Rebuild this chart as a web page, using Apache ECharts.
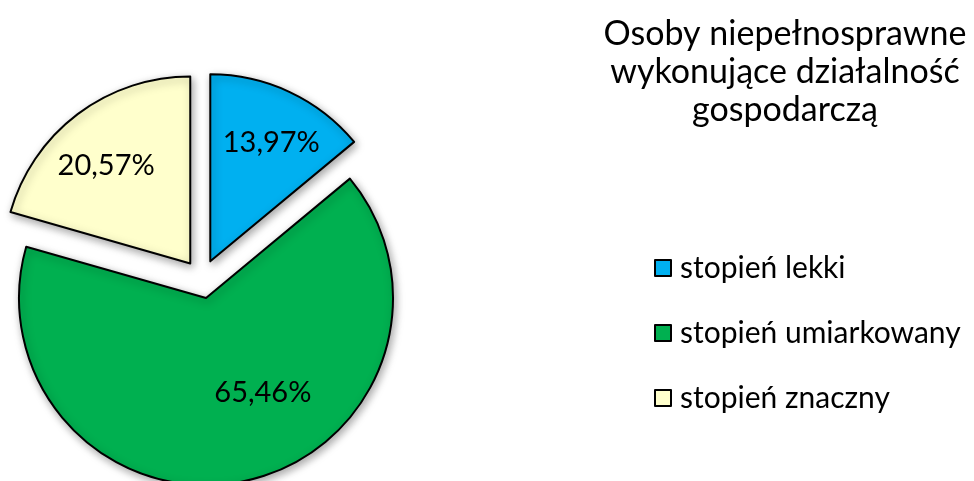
<!DOCTYPE html>
<html>
<head>
<meta charset="utf-8">
<script src="https://cdn.jsdelivr.net/npm/echarts@6/dist/echarts.min.js"></script>
<style>
  html, body { margin: 0; padding: 0; background: #fff; }
  #chart { width: 974px; height: 481px; }
</style>
</head>
<body>
<div id="chart"></div>
<script>
// dane z wykresu
const categories = ['stopień lekki', 'stopień umiarkowany', 'stopień znaczny'];
const shares = [13.97, 65.46, 20.57];
const sliceColors = ['#00B0F0', '#00B050', '#FFFFCC'];
const titleText = 'Osoby niepełnosprawne\nwykonujące działalność\ngospodarczą';

// przesunięcie etykiet (Excel stawia je trochę inaczej niż ECharts)
const labelShift = [[20, -31], [37, 0], [-26, -21]];

const chart = echarts.init(document.getElementById('chart'));

const option = {
  animation: false,
  graphic: [
    {
      type: 'text',
      x: 785,
      y: 15,
      style: {
        text: titleText,
        fontFamily: 'Lato',
        fontSize: 34,
        lineHeight: 38,
        fill: '#000',
        align: 'center',
        verticalAlign: 'top'
      }
    }
  ],
  legend: {
    orient: 'vertical',
    left: 654,
    top: 253,
    padding: 0,
    itemWidth: 16,
    itemHeight: 16,
    itemGap: 35,
    icon: 'rect',
    selectedMode: false,
    itemStyle: { borderColor: '#000', borderWidth: 2, shadowBlur: 0 },
    textStyle: {
      fontFamily: 'Lato',
      fontSize: 30,
      lineHeight: 28,
      color: '#000',
      padding: [0, 0, 0, 4]
    },
    data: categories
  },
  series: [
    {
      type: 'pie',
      center: [202, 279],
      radius: 187,
      startAngle: 90,
      clockwise: true,
      selectedMode: 'multiple',
      selectedOffset: 19.5,
      itemStyle: {
        borderColor: '#000',
        borderWidth: 2,
        shadowBlur: 8,
        shadowOffsetX: 2,
        shadowOffsetY: 3,
        shadowColor: 'rgba(0,0,0,0.35)'
      },
      label: {
        show: true,
        position: 'inside',
        fontFamily: 'Lato',
        fontSize: 29,
        color: '#000',
        formatter: p => p.value.toFixed(2).replace('.', ',') + '%'
      },
      labelLayout: p => ({ dx: labelShift[p.dataIndex][0], dy: labelShift[p.dataIndex][1] }),
      labelLine: { show: false },
      emphasis: { disabled: true },
      data: categories.map((name, i) => ({
        name: name,
        value: shares[i],
        selected: true,
        itemStyle: { color: sliceColors[i] }
      }))
    }
  ]
};

chart.setOption(option);
</script>
</body>
</html>
